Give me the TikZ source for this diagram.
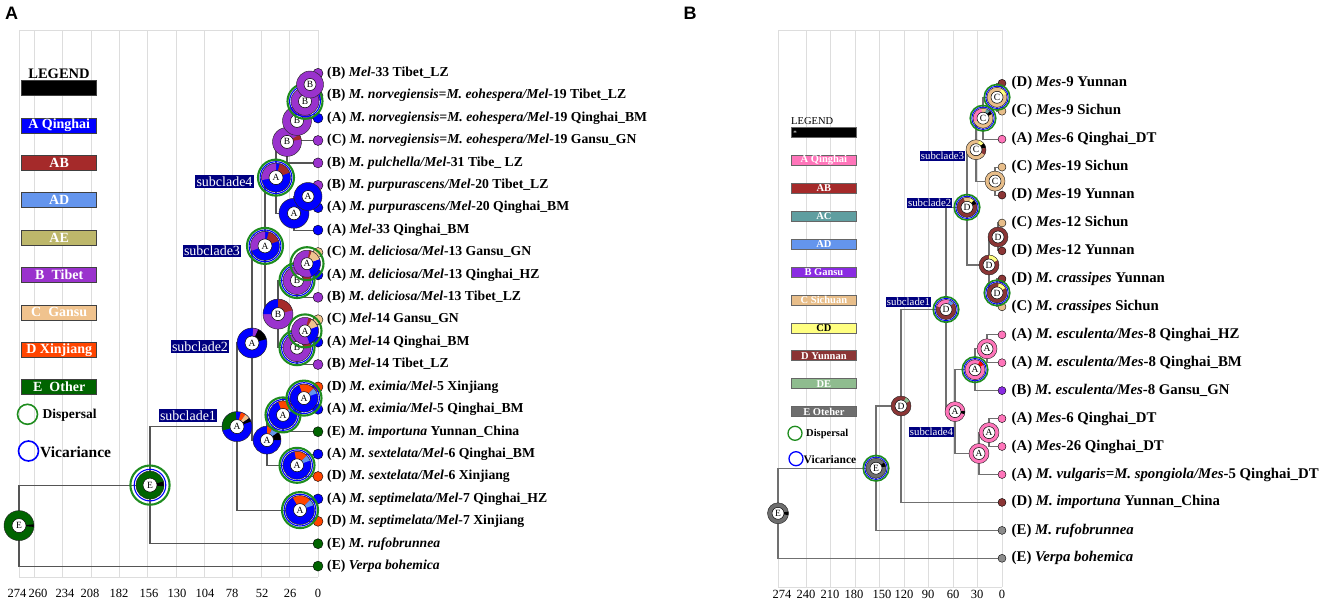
\documentclass[tikz,border=0pt]{standalone}
\usepackage{fontspec}
\setmainfont{Liberation Serif}
\newfontfamily\panelfont{Liberation Sans}
\pgfdeclarelayer{gridl}
\pgfdeclarelayer{edges}
\pgfsetlayers{gridl,edges,main}
\definecolor{qblue}{HTML}{0000FF}
\definecolor{abred}{HTML}{A52A2A}
\definecolor{adblue}{HTML}{6495ED}
\definecolor{aekhaki}{HTML}{BDB76B}
\definecolor{tibpurple}{HTML}{9A32CD}
\definecolor{gantan}{HTML}{F0C38E}
\definecolor{xjorange}{HTML}{FF4500}
\definecolor{othgreen}{HTML}{006400}
\definecolor{ringgreen}{HTML}{1E8C1E}
\definecolor{navyb}{HTML}{000080}
\definecolor{gridgray}{HTML}{DDDDDD}
\definecolor{edgegray}{HTML}{555555}
\definecolor{edgegrayB}{HTML}{707070}
\definecolor{qpink}{HTML}{FF75BA}
\definecolor{acteal}{HTML}{5F9EA0}
\definecolor{gspurple}{HTML}{8A2BE2}
\definecolor{sctan}{HTML}{E8BE8A}
\definecolor{cdyellow}{HTML}{FFFF80}
\definecolor{ynmaroon}{HTML}{8B3535}
\definecolor{degreen}{HTML}{8FBC8F}
\definecolor{egray}{HTML}{6E6E6E}
\definecolor{tipgray}{HTML}{8C8C8C}
\tikzset{
  ltr/.style={circle, fill=white, draw=black, line width=0.5pt, inner sep=0pt, font=\fontsize{9.5}{9.5}\selectfont},
  tipdotA/.style={circle, draw=black, line width=0.4pt, inner sep=0pt, minimum size=10pt},
  tipdotB/.style={circle, draw=black, line width=0.4pt, inner sep=0pt, minimum size=8pt},
  tlA/.style={anchor=west, inner sep=0pt, font=\fontsize{13.7}{15}\selectfont\bfseries},
  tlB/.style={anchor=west, inner sep=0pt, font=\fontsize{14.8}{16}\selectfont\bfseries},
  edgeA/.style={draw=edgegray, line width=1.2pt},
  edgeB/.style={draw=edgegrayB, line width=1.1pt},
  subA/.style={fill=navyb, text=white, inner sep=1.2pt, font=\fontsize{14}{14}\selectfont},
  subB/.style={fill=navyb, text=white, inner sep=0.8pt, font=\fontsize{10.8}{10.8}\selectfont},
  gline/.style={draw=gridgray, line width=1pt},
  legA/.style={draw=black!75, line width=0.7pt, minimum width=75pt, minimum height=15pt, inner sep=0pt, text=white, font=\fontsize{14}{14}\selectfont\bfseries},
  legB/.style={draw=black!60, line width=0.6pt, minimum width=65.7pt, minimum height=10pt, inner sep=0pt, text=white, font=\fontsize{10.5}{10.5}\selectfont\bfseries},
  axl/.style={font=\fontsize{12.5}{12.5}\selectfont, inner sep=0pt}
}
\newcommand{\donut}[7]{%
  \fill[#5] (#2) circle[radius=#3pt];
  \foreach \wa/\wb/\wc in {#7}{\fill[\wc] (#2) -- ++(\wa:#3pt) arc[start angle=\wa, end angle=\wb, radius=#3pt] -- cycle;}
  \draw[black!85, line width=0.45pt] (#2) circle[radius=#3pt];
  \node[ltr, minimum size=#4pt] (#1) at (#2) {#6};
}
\newcommand{\bothrings}[3]{\draw[qblue, line width=1.1pt] (#1) circle[radius=#2pt]; \draw[ringgreen, line width=2.1pt] (#1) circle[radius=#3pt];}
\newcommand{\greenring}[2]{\draw[ringgreen, line width=2.1pt] (#1) circle[radius=#2pt];}
\newcommand{\bothringsB}[1]{\draw[qblue, line width=0.9pt] (#1) circle[radius=11.2pt]; \draw[ringgreen, line width=1.6pt] (#1) circle[radius=12.8pt];}
\newcommand{\tipA}[4]{\node[tipdotA, fill=#3] (tA#1) at (318,#2) {}; \node[tlA] (lA#1) at (327,#2) {#4};}
\newcommand{\tipB}[4]{\node[tipdotB, fill=#3] (tB#1) at (1002,#2) {}; \node[tlB] (lB#1) at (1011.5,#2) {#4};}
\begin{document}
\begin{tikzpicture}[x=1pt,y=-1pt]
\useasboundingbox (0,0) rectangle (1325,605);
% ---------- panel labels
\node[font=\panelfont\fontsize{18}{18}\selectfont\bfseries, inner sep=0pt] (panA) at (11.5,13.5) {A};
\node[font=\panelfont\fontsize{18}{18}\selectfont\bfseries, inner sep=0pt] (panB) at (690,13.5) {B};
% ---------- grids
\begin{pgfonlayer}{gridl}
\foreach \t in {274,260,234,208,182,156,130,104,78,52,26,0}{\draw[gline] ({318-\t*1.0912},30) -- ({318-\t*1.0912},577);}
\draw[gline] (19,30) -- (318,30);
\draw[gline] (19,577) -- (318,577);
\foreach \t in {274,240,210,180,150,120,90,60,30,0}{\draw[gline] ({1002-\t*0.8167},30) -- ({1002-\t*0.8167},587);}
\draw[gline] (778.2,30) -- (1002,30);
\draw[gline] (778.2,587) -- (1002,587);
\end{pgfonlayer}
\foreach \t/\xx in {274/17,260/38,234/65,208/90,182/119,156/149,130/177,104/205,78/232,52/262,26/290,0/318}{\node[axl] (axA\t) at (\xx,593) {\t};}
\foreach \t/\xx in {274/782,240/806,210/830,180/854,150/882,120/904,90/928,60/953,30/977,0/1002}{\node[axl] (axB\t) at (\xx,594) {\t};}
% ---------- legend A
\node[font=\fontsize{14.5}{14.5}\selectfont\bfseries, inner sep=0pt] (lgAt) at (59,74) {LEGEND};
\node[legA, fill=black] (lgA0) at (59.2,88.3) {};
\node[legA, fill=qblue] (lgA1) at (59.2,125.6) {A Qinghai};
\node[legA, fill=abred] (lgA2) at (59.2,163) {AB};
\node[legA, fill=adblue] (lgA3) at (59.2,200.3) {AD};
\node[legA, fill=aekhaki] (lgA4) at (59.2,237.7) {AE};
\node[legA, fill=tibpurple] (lgA5) at (59.2,275) {B\ \ Tibet};
\node[legA, fill=gantan] (lgA6) at (59.2,312.4) {C\ \ Gansu};
\node[legA, fill=xjorange] (lgA7) at (59.2,349.7) {D Xinjiang};
\node[legA, fill=othgreen] (lgA8) at (59.2,387.1) {E\ \ Other};
\draw[ringgreen, line width=1.6pt] (27.5,414.3) circle[radius=10pt];
\node[anchor=west, inner sep=0pt, font=\fontsize{13.5}{13.5}\selectfont\bfseries] (lgAd) at (42.5,415) {Dispersal};
\draw[qblue, line width=1.6pt] (28.5,451) circle[radius=10pt];
\node[anchor=west, inner sep=0pt, font=\fontsize{15.5}{15.5}\selectfont\bfseries] (lgAv) at (40,452) {Vicariance};
% ---------- legend B
\node[anchor=west, inner sep=0pt, font=\fontsize{10.5}{10.5}\selectfont] (lgBt) at (791,121.5) {LEGEND};
\node[legB, fill=black] (lgB0) at (823.9,132.3) {};
\node[text=white, inner sep=0pt, font=\fontsize{7}{7}\selectfont] (lgBs) at (795,133.3) {*};
\node[legB, fill=qpink] (lgB1) at (823.9,160.2) {A Qinghai};
\node[legB, fill=abred] (lgB2) at (823.9,188.2) {AB};
\node[legB, fill=acteal] (lgB3) at (823.9,216.1) {AC};
\node[legB, fill=adblue] (lgB4) at (823.9,244) {AD};
\node[legB, fill=gspurple] (lgB5) at (823.9,272) {B Gansu};
\node[legB, fill=sctan] (lgB6) at (823.9,299.9) {C Sichuan};
\node[legB, fill=cdyellow, text=black] (lgB7) at (823.9,327.8) {CD};
\node[legB, fill=ynmaroon] (lgB8) at (823.9,355.7) {D Yunnan};
\node[legB, fill=degreen] (lgB9) at (823.9,383.7) {DE};
\node[legB, fill=egray] (lgB10) at (823.9,411.6) {E Oteher};
\draw[ringgreen, line width=1.3pt] (795,433.3) circle[radius=7pt];
\node[anchor=west, inner sep=0pt, font=\fontsize{10.5}{10.5}\selectfont\bfseries] (lgBd) at (806,433.5) {Dispersal};
\draw[qblue, line width=1.3pt] (796,458.7) circle[radius=7pt];
\node[anchor=west, inner sep=0pt, font=\fontsize{11.5}{11.5}\selectfont\bfseries] (lgBv) at (803.5,459.5) {Vicariance};
% ---------- tips A
\tipA{0}{73.3}{tibpurple}{(B) \textit{Mel}-33 Tibet\_LZ}
\tipA{1}{95.7}{tibpurple}{(B) \textit{M. norvegiensis=M. eohespera/Mel}-19 Tibet\_LZ}
\tipA{2}{118.1}{qblue}{(A) \textit{M. norvegiensis=M. eohespera/Mel}-19 Qinghai\_BM}
\tipA{3}{140.5}{tibpurple}{(C) \textit{M. norvegiensis=M. eohespera/Mel}-19 Gansu\_GN}
\tipA{4}{162.9}{tibpurple}{(B) \textit{M. pulchella/Mel}-31 Tibe\_ LZ}
\tipA{5}{185.3}{tibpurple}{(B) \textit{M. purpurascens/Mel}-20 Tibet\_LZ}
\tipA{6}{207.7}{qblue}{(A) \textit{M. purpurascens/Mel}-20 Qinghai\_BM}
\tipA{7}{230.1}{qblue}{(A) \textit{Mel}-33 Qinghai\_BM}
\tipA{8}{252.5}{gantan}{(C) \textit{M. deliciosa/Mel}-13 Gansu\_GN}
\tipA{9}{274.9}{qblue}{(A) \textit{M. deliciosa/Mel}-13 Qinghai\_HZ}
\tipA{10}{297.3}{tibpurple}{(B) \textit{M. deliciosa/Mel}-13 Tibet\_LZ}
\tipA{11}{319.7}{gantan}{(C) \textit{Mel}-14 Gansu\_GN}
\tipA{12}{342.1}{qblue}{(A) \textit{Mel}-14 Qinghai\_BM}
\tipA{13}{364.5}{tibpurple}{(B) \textit{Mel}-14 Tibet\_LZ}
\tipA{14}{386.9}{xjorange}{(D) \textit{M. eximia/Mel}-5 Xinjiang}
\tipA{15}{409.3}{qblue}{(A) \textit{M. eximia/Mel}-5 Qinghai\_BM}
\tipA{16}{431.7}{othgreen}{(E) \textit{M. importuna} Yunnan\_China}
\tipA{17}{454.1}{qblue}{(A) \textit{M. sextelata/Mel}-6 Qinghai\_BM}
\tipA{18}{476.5}{xjorange}{(D) \textit{M. sextelata/Mel}-6 Xinjiang}
\tipA{19}{498.9}{qblue}{(A) \textit{M. septimelata/Mel}-7 Qinghai\_HZ}
\tipA{20}{521.3}{xjorange}{(D) \textit{M. septimelata/Mel}-7 Xinjiang}
\tipA{21}{543.7}{othgreen}{(E) \textit{M. rufobrunnea}}
\tipA{22}{566.1}{othgreen}{(E) \textit{Verpa bohemica}}
% ---------- nodes A
\donut{rootA}{19,525.6}{15}{14}{othgreen}{E}{-5/5/black}
\donut{nE2}{150,485.1}{14}{14}{othgreen}{E}{-5/15/black}
\bothrings{150,485.1}{15.8}{19.6}
\donut{sub1A}{237,426.6}{15}{14}{qblue}{A}{95/195/othgreen, 55/75/xjorange, 35/55/gantan, 20/35/black}
\donut{sub2A}{252,343}{15}{14}{qblue}{A}{65/85/tibpurple, 15/65/black}
\donut{sub3A}{265,245.9}{14.5}{14}{qblue}{A}{90/200/tibpurple, 20/75/abred}
\bothrings{265,245.9}{15.9}{18}
\donut{sub4A}{276,177.6}{14.5}{14}{qblue}{A}{90/190/tibpurple, 20/75/abred}
\bothrings{276,177.6}{15.9}{18}
\donut{nA4}{287,141.9}{14.5}{13}{tibpurple}{B}{10/30/abred}
\donut{nA3}{297,120.9}{14.5}{13}{tibpurple}{B}{0/1/tibpurple}
\donut{nA2}{305,101.3}{14}{13}{tibpurple}{B}{0/1/tibpurple}
\bothrings{305,101.3}{15.4}{17.5}
\donut{nA1}{310,84.5}{13.5}{12}{tibpurple}{B}{0/1/tibpurple}
\donut{nA6}{294,213.3}{15}{13}{qblue}{A}{0/1/qblue}
\donut{nA5}{308,196.5}{14}{12}{qblue}{A}{0/1/qblue}
\donut{nA11}{278,314.1}{15}{13}{tibpurple}{B}{90/180/qblue, 15/90/abred}
\donut{nA8}{297,280.5}{14}{13}{tibpurple}{B}{0/60/abred}
\bothrings{297,280.5}{15.4}{17.5}
\donut{nA7}{307,263.7}{13.5}{12}{tibpurple}{A}{-70/20/qblue, 20/70/gantan, 70/80/abred}
\greenring{307,263.7}{16.5}
\donut{nA10}{297,347.7}{14}{13}{tibpurple}{B}{0/70/abred}
\bothrings{297,347.7}{15.4}{17.5}
\donut{nA9}{305,330.9}{13.5}{12}{tibpurple}{A}{-70/20/qblue, 20/60/gantan, 60/75/abred}
\greenring{305,330.9}{16.5}
\donut{nA15}{267,440.1}{14}{13}{qblue}{A}{65/90/xjorange, 35/65/adblue, 0/35/black}
\donut{nA13}{283,414.9}{14}{13}{qblue}{A}{45/110/xjorange, 25/45/adblue}
\bothrings{283,414.9}{15.4}{17.5}
\donut{nA12}{304,398.1}{14}{13}{qblue}{A}{45/110/xjorange, 20/45/adblue}
\bothrings{304,398.1}{15.4}{17.5}
\donut{nA14}{297,465.3}{14}{13}{qblue}{A}{45/100/xjorange, 20/45/adblue}
\bothrings{297,465.3}{15.4}{17.5}
\donut{nA16}{300,510.1}{14.5}{13}{qblue}{A}{45/120/xjorange, 20/45/adblue}
\bothrings{300,510.1}{15.9}{18}
% subclade labels A
\node[subA] (slA4) at (224.5,181.5) {subclade4};
\node[subA] (slA3) at (212,251) {subclade3};
\node[subA] (slA2) at (200,346.5) {subclade2};
\node[subA] (slA1) at (188,415.5) {subclade1};
% ---------- tips B
\tipB{0}{83.3}{ynmaroon}{(D) \textit{Mes}-9 Yunnan}
\tipB{1}{111.2}{sctan}{(C) \textit{Mes}-9 Sichun}
\tipB{2}{139.2}{qpink}{(A) \textit{Mes}-6 Qinghai\_DT}
\tipB{3}{167.1}{sctan}{(C) \textit{Mes}-19 Sichun}
\tipB{4}{195.1}{ynmaroon}{(D) \textit{Mes}-19 Yunnan}
\tipB{5}{223.0}{sctan}{(C) \textit{Mes}-12 Sichun}
\tipB{6}{250.9}{ynmaroon}{(D) \textit{Mes}-12 Yunnan}
\tipB{7}{278.9}{ynmaroon}{(D) \textit{M. crassipes} Yunnan}
\tipB{8}{306.8}{sctan}{(C) \textit{M. crassipes} Sichun}
\tipB{9}{334.8}{qpink}{(A) \textit{M. esculenta/Mes}-8 Qinghai\_HZ}
\tipB{10}{362.7}{qpink}{(A) \textit{M. esculenta/Mes}-8 Qinghai\_BM}
\tipB{11}{390.6}{gspurple}{(B) \textit{M. esculenta/Mes}-8 Gansu\_GN}
\tipB{12}{418.6}{qpink}{(A) \textit{Mes}-6 Qinghai\_DT}
\tipB{13}{446.5}{qpink}{(A) \textit{Mes}-26 Qinghai\_DT}
\tipB{14}{474.5}{qpink}{(A) \textit{M. vulgaris=M. spongiola/Mes}-5 Qinghai\_DT}
\tipB{15}{502.4}{ynmaroon}{(D) \textit{M. importuna} Yunnan\_China}
\tipB{16}{530.4}{tipgray}{(E) \textit{M. rufobrunnea}}
\tipB{17}{558.3}{tipgray}{(E) \textit{Verpa bohemica}}
% ---------- nodes B
\donut{rootB}{778,513.3}{10.5}{12}{egray}{E}{-10/10/black}
\donut{nB12}{876,468.2}{10}{12}{egray}{E}{10/35/black}
\bothringsB{876,468.2}
\donut{nB11}{901,406}{10}{12}{ynmaroon}{D}{30/60/degreen}
\donut{sub1B}{946,309.5}{10}{12}{ynmaroon}{D}{70/160/qpink, 40/70/adblue}
\bothringsB{946,309.5}
\donut{sub2B}{967,207.3}{10}{12}{ynmaroon}{D}{70/110/sctan, 45/70/cdyellow, 20/45/black}
\bothringsB{967,207.3}
\donut{sub3B}{976,149.7}{10}{12}{sctan}{C}{40/70/cdyellow, 10/40/black, -30/10/ynmaroon}
\donut{nB2}{983,118.2}{10}{12}{sctan}{C}{100/200/qpink, 45/70/acteal, 25/45/black}
\bothringsB{983,118.2}
\donut{nB1}{997,97.3}{10}{12}{sctan}{C}{20/60/cdyellow}
\bothringsB{997,97.3}
\donut{nB3}{995,181.1}{10}{12}{sctan}{C}{0/1/sctan}
\donut{nB6}{989,265}{10}{12}{ynmaroon}{D}{30/90/cdyellow}
\donut{nB4}{998,237}{10}{12}{ynmaroon}{D}{0/1/ynmaroon}
\donut{nB5}{997,292.9}{10}{12}{ynmaroon}{D}{30/80/cdyellow}
\bothringsB{997,292.9}
\donut{sub4B}{955,411.6}{10}{12}{qpink}{A}{-15/5/black}
\donut{nB8}{975,369.7}{10}{12}{qpink}{A}{30/60/red}
\bothringsB{975,369.7}
\donut{nB7}{987,348.8}{10}{12}{qpink}{A}{0/1/qpink}
\donut{nB10}{979,453.5}{10}{12}{qpink}{A}{0/1/qpink}
\donut{nB9}{989,432.6}{10}{12}{qpink}{A}{0/1/qpink}
% subclade labels B
\node[subB] (slB3) at (942.5,156) {subclade3};
\node[subB] (slB2) at (929.7,203) {subclade2};
\node[subB] (slB1) at (908.5,302) {subclade1};
\node[subB] (slB4) at (931.5,432) {subclade4};
% ---------- edges
\begin{pgfonlayer}{edges}
\draw[edgeA] (rootA.center) |- (nE2.center) (rootA.center) |- (tA22.center);
\draw[edgeA] (nE2.center) |- (sub1A.center) (nE2.center) |- (tA21.center);
\draw[edgeA] (sub1A.center) |- (sub2A.center) (sub1A.center) |- (nA16.center);
\draw[edgeA] (nA16.center) |- (tA19.center) (nA16.center) |- (tA20.center);
\draw[edgeA] (sub2A.center) |- (sub3A.center) (sub2A.center) |- (nA15.center);
\draw[edgeA] (nA15.center) |- (nA13.center) (nA15.center) |- (nA14.center);
\draw[edgeA] (nA14.center) |- (tA17.center) (nA14.center) |- (tA18.center);
\draw[edgeA] (nA13.center) |- (nA12.center) (nA13.center) |- (tA16.center);
\draw[edgeA] (nA12.center) |- (tA14.center) (nA12.center) |- (tA15.center);
\draw[edgeA] (sub3A.center) |- (sub4A.center) (sub3A.center) |- (nA11.center);
\draw[edgeA] (nA11.center) |- (nA8.center) (nA11.center) |- (nA10.center);
\draw[edgeA] (nA8.center) |- (nA7.center) (nA8.center) |- (tA10.center);
\draw[edgeA] (nA7.center) |- (tA8.center) (nA7.center) |- (tA9.center);
\draw[edgeA] (nA10.center) |- (nA9.center) (nA10.center) |- (tA13.center);
\draw[edgeA] (nA9.center) |- (tA11.center) (nA9.center) |- (tA12.center);
\draw[edgeA] (sub4A.center) |- (nA4.center) (sub4A.center) |- (nA6.center);
\draw[edgeA] (nA4.center) |- (nA3.center) (nA4.center) |- (tA4.center);
\draw[edgeA] (nA3.center) |- (nA2.center) (nA3.center) |- (tA3.center);
\draw[edgeA] (nA2.center) |- (nA1.center) (nA2.center) |- (tA2.center);
\draw[edgeA] (nA1.center) |- (tA0.center) (nA1.center) |- (tA1.center);
\draw[edgeA] (nA6.center) |- (nA5.center) (nA6.center) |- (tA7.center);
\draw[edgeA] (nA5.center) |- (tA5.center) (nA5.center) |- (tA6.center);
%
\draw[edgeB] (rootB.center) |- (nB12.center) (rootB.center) |- (tB17.center);
\draw[edgeB] (nB12.center) |- (nB11.center) (nB12.center) |- (tB16.center);
\draw[edgeB] (nB11.center) |- (sub1B.center) (nB11.center) |- (tB15.center);
\draw[edgeB] (sub1B.center) |- (sub2B.center) (sub1B.center) |- (sub4B.center);
\draw[edgeB] (sub2B.center) |- (sub3B.center) (sub2B.center) |- (nB6.center);
\draw[edgeB] (sub3B.center) |- (nB2.center) (sub3B.center) |- (nB3.center);
\draw[edgeB] (nB2.center) |- (nB1.center) (nB2.center) |- (tB2.center);
\draw[edgeB] (nB1.center) |- (tB0.center) (nB1.center) |- (tB1.center);
\draw[edgeB] (nB3.center) |- (tB3.center) (nB3.center) |- (tB4.center);
\draw[edgeB] (nB6.center) |- (nB4.center) (nB6.center) |- (nB5.center);
\draw[edgeB] (nB4.center) |- (tB5.center) (nB4.center) |- (tB6.center);
\draw[edgeB] (nB5.center) |- (tB7.center) (nB5.center) |- (tB8.center);
\draw[edgeB] (sub4B.center) |- (nB8.center) (sub4B.center) |- (nB10.center);
\draw[edgeB] (nB8.center) |- (nB7.center) (nB8.center) |- (tB11.center);
\draw[edgeB] (nB7.center) |- (tB9.center) (nB7.center) |- (tB10.center);
\draw[edgeB] (nB10.center) |- (nB9.center) (nB10.center) |- (tB14.center);
\draw[edgeB] (nB9.center) |- (tB12.center) (nB9.center) |- (tB13.center);
\end{pgfonlayer}
\end{tikzpicture}
\end{document}
